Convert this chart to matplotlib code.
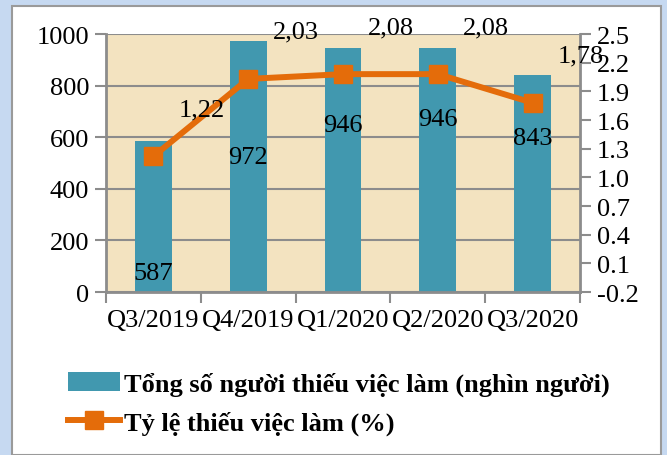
import matplotlib
matplotlib.use("Agg")
import matplotlib.pyplot as plt
from matplotlib.patches import Rectangle, Patch
from matplotlib.lines import Line2D

categories = ["Q3/2019", "Q4/2019", "Q1/2020", "Q2/2020", "Q3/2020"]
bar_values = [587, 972, 946, 946, 843]
bar_labels = ["587", "972", "946", "946", "843"]
rate_values = [1.22, 2.03, 2.08, 2.08, 1.78]
rate_labels = ["1,22", "2,03", "2,08", "2,08", "1,78"]
left_ticks = [0, 200, 400, 600, 800, 1000]
right_ticks = [-0.2, 0.1, 0.4, 0.7, 1.0, 1.3, 1.6, 1.9, 2.2, 2.5]
right_tick_labels = ["-0.2", "0.1", "0.4", "0.7", "1.0", "1.3", "1.6", "1.9", "2.2", "2.5"]
bar_series_name = "Tổng số người thiếu việc làm (nghìn người)"
line_series_name = "Tỷ lệ thiếu việc làm (%)"

# pixel offsets of bar labels below bar tops (styling)
bar_label_drop = [132, 116, 77, 71, 63]

BAR_C = "#4198AF"
LINE_C = "#E46C0A"
GRID_C = "#8C8C8C"
W, H = 667, 456
serif = ["Liberation Serif", "DejaVu Serif"]
FS = 19

fig = plt.figure(figsize=(W / 100, H / 100), dpi=100)
fig.patch.set_facecolor("#C6D9F1")
fig.patches.append(Rectangle((12 / W, 0), (661 - 12) / W, (H - 7) / H,
                             transform=fig.transFigure, facecolor="white",
                             edgecolor="#9A9A9A", linewidth=1.5, zorder=-5))

ax = fig.add_axes([106 / W, 1 - 293 / H, (580 - 106) / W, (293 - 35) / H])
ax.set_zorder(1)
ax.set_facecolor("#F3E3C0")
x = list(range(len(categories)))
ax.bar(x, bar_values, width=0.39, color=BAR_C, zorder=2)
ax.set_xlim(-0.5, len(categories) - 0.5)
ax.set_ylim(0, 1000)
ax.set_yticks(left_ticks)
ax.set_yticklabels([str(t) for t in left_ticks], family=serif, fontsize=FS)
ax.yaxis.grid(True, color=GRID_C, linewidth=1.5, zorder=1)
ax.set_axisbelow(True)
ax.set_xticks([i - 0.5 for i in range(len(categories) + 1)])
ax.set_xticklabels([])
ax.set_xticks(x, minor=True)
ax.set_xticklabels(categories, minor=True, family=serif, fontsize=FS)
ax.tick_params(axis="x", which="minor", length=0, pad=12)
ax.tick_params(axis="x", which="major", length=8, width=1.5, color=GRID_C)
ax.tick_params(axis="y", length=8, width=1.5, color=GRID_C, pad=4)
for s in ["top", "right"]:
    ax.spines[s].set_visible(False)
for s in ["left", "bottom"]:
    ax.spines[s].set_color(GRID_C)
    ax.spines[s].set_linewidth(2)

for i, (v, lab, d) in enumerate(zip(bar_values, bar_labels, bar_label_drop)):
    ax.annotate(lab, (i, v), xytext=(0, -d), textcoords="offset pixels",
                ha="center", va="center", family=serif, fontsize=FS, zorder=5)

ax2 = ax.twinx()
ax2.set_zorder(2)
ax2.plot(x, rate_values, color=LINE_C, linewidth=4.3, marker="s",
         markersize=13, zorder=4)
ax2.set_ylim(-0.2, 2.5)
ax2.set_yticks(right_ticks)
ax2.set_yticklabels(right_tick_labels, family=serif, fontsize=FS)
ax2.tick_params(axis="y", length=8, width=1.5, color=GRID_C, pad=4)
for s in ["top", "left", "bottom"]:
    ax2.spines[s].set_visible(False)
ax2.spines["right"].set_color(GRID_C)
ax2.spines["right"].set_linewidth(2)
for i, (v, lab) in enumerate(zip(rate_values, rate_labels)):
    ax2.annotate(lab, (i, v), xytext=(48, 47), textcoords="offset pixels",
                 ha="center", va="center", family=serif, fontsize=FS,
                 annotation_clip=False, zorder=6)

handles = [Patch(facecolor=BAR_C, edgecolor="none"),
           Line2D([], [], color=LINE_C, linewidth=4.3, marker="s", markersize=13)]
fig.legend(handles, [bar_series_name, line_series_name],
           loc="upper left", bbox_to_anchor=(57 / W, 1 - 362 / H),
           frameon=False, prop={"family": serif, "size": 19, "weight": "bold"},
           handlelength=2.0, handletextpad=0.15, labelspacing=0.55,
           borderaxespad=0)

fig.savefig("out.png", dpi=100)
